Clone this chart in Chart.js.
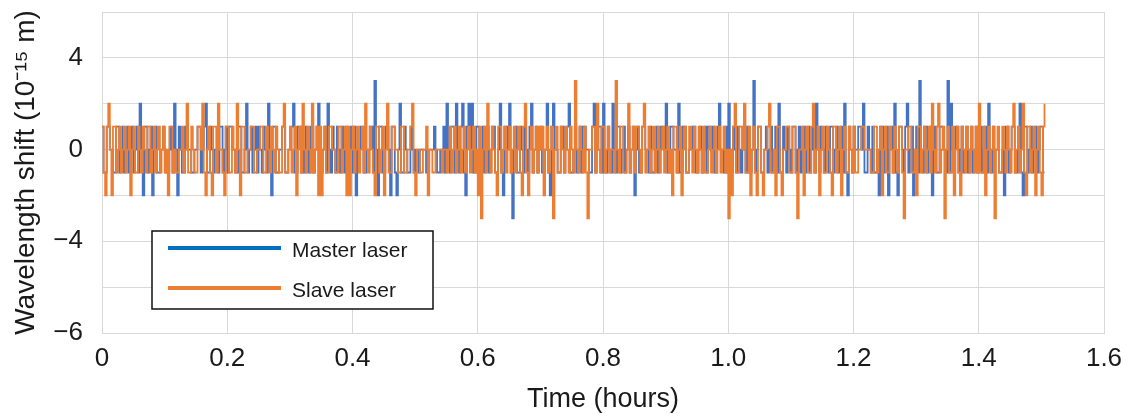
<!DOCTYPE html>
<html>
<head>
<meta charset="utf-8">
<script src="https://cdn.jsdelivr.net/npm/chart.js@4"></script>
<style>
html,body{margin:0;padding:0;background:#fff;}
#wrap{position:relative;width:1133px;height:416px;}
</style>
</head>
<body>
<div id="wrap"><canvas id="c"></canvas></div>
<script>
// ---- data ----
const seriesNames = ['Master laser', 'Slave laser'];
const sampleHours = 0.0025; // sampling interval of the record (hours)
const masterShift = [
 1,-1,-1,1,1,0,0,-1,-1,1,1,-1,0,1,-1,0,1,-1,0,1,-1,0,1,-1,2,0,-2,1,1,-1,0,1,-2,0,1,-1,-1,0,0,1,
 0,-1,-1,0,1,-1,2,0,-2,1,0,-1,-1,1,0,0,0,-1,-1,0,0,1,1,-1,0,1,2,-1,-1,1,0,-1,0,0,-1,1,1,-1,0,1,
 -1,1,1,0,0,-1,-1,1,1,-1,-1,0,2,-1,0,1,-1,0,1,-1,1,0,-1,1,0,-1,2,0,-2,1,1,-1,-1,0,0,1,1,-1,-1,0,
 0,1,2,-1,-1,1,1,-1,0,-1,1,0,-1,1,1,-1,0,1,2,-1,-1,0,1,-1,2,0,-1,1,0,-1,1,0,-1,1,0,-1,1,-1,0,1,
 -1,1,-2,0,0,1,1,-1,-1,0,0,1,1,-1,3,0,-2,1,1,-1,-1,1,1,0,-2,1,1,-1,-2,0,2,-1,-1,1,0,-1,-1,1,0,-1,
 0,0,-1,0,0,0,0,-1,-1,0,0,0,1,0,-1,-1,0,0,1,-1,2,0,-1,1,1,-1,2,0,-1,1,2,-1,-2,1,2,0,2,-1,-1,1,
 1,-1,0,1,-1,0,1,-1,0,1,1,-1,-1,0,2,-1,-2,1,1,0,2,-1,-3,0,1,-1,-1,1,0,-1,1,0,-1,1,2,-1,0,1,-1,0,
 1,-1,-1,0,2,-1,-2,1,2,0,0,-1,-1,1,1,-1,0,1,2,-1,-1,0,1,-1,0,1,-1,1,1,0,0,-1,-1,1,2,-1,0,1,1,-1,
 2,-1,-1,1,0,-1,2,0,-1,1,1,-1,0,1,-1,0,1,-1,0,1,-2,0,1,-1,-1,1,1,0,0,-1,1,-1,-1,0,1,-1,0,1,1,0,
 2,-1,-1,1,1,0,0,-1,2,-1,-1,1,1,-1,-1,0,0,1,1,-1,-1,0,1,-1,0,1,-1,1,1,0,1,-1,-1,1,2,0,0,-1,1,-1,
 2,0,-1,1,0,-1,1,0,-1,1,0,-1,1,-1,-1,0,3,-1,0,1,1,-1,-1,0,1,-1,0,1,-1,0,1,-1,2,-1,-1,1,0,-1,1,0,
 -1,1,1,-1,0,1,-1,0,1,-1,0,1,-1,0,1,-1,2,0,-1,1,0,-1,1,0,-1,1,1,-1,0,1,-1,0,1,-1,2,-1,-2,1,0,-1,
 1,0,0,1,1,0,2,-1,-1,1,0,-1,1,-1,-1,0,-2,1,1,-1,0,1,-2,0,1,-1,2,-1,-2,1,1,0,-1,1,2,-1,0,1,-2,0,
 1,-1,3,0,-1,1,1,-1,0,1,-2,0,1,-1,-1,1,1,0,0,-1,3,-1,2,0,-1,1,1,-1,0,1,-1,0,1,-1,0,1,-1,0,1,-1,
 0,1,-1,0,1,-1,2,0,-1,1,0,0,0,-1,-1,0,-2,1,1,-1,0,1,1,-1,-1,0,2,-1,-2,1,1,-1,0,1,-1,0,1,-1,0,1,
 1,-1,-1
];
const slaveShift = [
 1,-1,-2,1,2,0,-2,1,1,-1,0,1,-1,0,1,-1,0,1,-2,0,1,-1,-1,1,0,-1,1,0,-1,1,1,-1,0,1,-1,0,1,-1,0,1,
 -1,0,-2,1,1,-1,0,-1,-1,0,0,1,-1,0,2,-1,-1,1,0,-1,-1,1,1,0,2,-1,-2,0,1,-1,-2,1,1,-1,2,0,0,-1,-2,1,
 1,-1,-1,1,0,-1,2,0,-2,1,1,-1,-1,0,0,1,1,-1,-1,0,0,1,1,-1,-1,1,0,-1,1,0,-1,1,0,-1,-1,1,2,-1,-1,0,
 1,-1,0,1,-2,0,1,-1,2,0,-1,1,0,-1,2,-1,0,1,-2,1,-2,0,1,-1,-1,1,1,0,0,-1,-1,1,1,-1,0,1,-2,1,-2,0,
 1,-1,0,1,-1,0,1,-1,2,0,-1,1,0,-1,-2,1,1,-1,0,1,-2,0,2,-1,-1,1,1,0,0,-1,-1,1,1,-1,-1,0,0,1,2,-1,
 -2,0,0,-1,-1,0,0,1,-2,0,0,-1,-1,0,0,0,0,-1,0,0,-1,0,1,-1,0,1,-1,0,1,-1,0,1,-1,0,1,-1,0,1,-1,0,
 -2,1,-3,0,1,-1,2,0,-1,1,0,-1,-2,1,1,-1,0,1,-1,0,1,-1,0,1,-1,0,1,-1,-2,1,2,-1,-2,0,1,-1,0,1,-1,1,
 0,1,-2,0,1,-1,0,1,-3,0,1,-1,-1,1,0,-1,1,0,-1,1,0,-1,3,0,-1,1,0,-1,1,-1,-3,0,0,1,1,-1,2,0,-1,1,
 1,-1,0,1,-1,0,0,-1,3,0,-1,1,1,-1,-1,0,2,-1,0,1,-1,1,1,0,-1,1,2,-1,0,1,-1,0,1,-1,0,1,-1,0,1,-1,
 0,1,-1,0,-2,1,1,-1,0,1,-2,0,1,-1,-1,1,0,-1,1,0,-1,1,0,-1,1,-1,-1,0,1,-1,0,1,-1,0,1,-1,0,1,-1,0,
 -3,0,-2,1,2,-1,-1,1,1,0,2,-1,-1,1,-2,0,1,-1,-2,1,1,-1,-2,0,0,1,2,-1,-1,0,-2,1,1,-1,-2,0,0,1,1,-1,
 -1,1,1,-1,-3,0,0,1,-2,0,1,-1,-1,1,2,-1,0,1,-2,0,1,-1,-1,1,0,-1,-2,1,1,-1,0,1,-2,0,1,-1,-1,1,0,-1,
 1,-1,-1,0,0,1,1,0,0,0,0,-1,-1,1,1,-1,0,1,-2,0,1,-1,-1,1,0,-1,1,0,-1,1,1,-1,-3,0,0,1,1,-1,-1,0,
 -2,1,1,-1,0,1,-1,0,1,-1,2,0,-1,1,2,-1,0,1,-3,0,1,-1,-1,1,-2,0,1,-1,-2,1,0,-1,1,0,-1,1,0,-1,1,-1,
 2,-1,-1,1,-2,0,1,-1,0,1,-3,0,1,-1,-1,1,0,-1,1,0,-1,1,2,-1,0,1,-1,0,2,-1,-2,1,1,-1,0,1,-2,0,1,-1,
 -2,1,2
];
const xTickLabels = ['0','0.2','0.4','0.6','0.8','1.0','1.2','1.4','1.6'];
const yTickValues = [6,4,2,0,-2,-4,-6,-8];
const yTickLabels = ['','4','','0','','\u22124','','\u22126'];

// ---- build ----
const toPoints = arr => arr.map((v,i)=>({x: i*sampleHours, y: v}));
const FONT = '"Liberation Sans", Arial, sans-serif';
const lineColors = ['#4472C4', '#ED7D31'];
const legendColors = ['#0070C0', '#ED7D31'];

const boxLegend = {
  id: 'boxLegend',
  afterDraw(chart){
    const ctx = chart.ctx;
    ctx.save();
    ctx.fillStyle = '#ffffff';
    ctx.fillRect(152, 231, 281, 78);
    ctx.strokeStyle = '#111111';
    ctx.lineWidth = 1.5;
    ctx.strokeRect(152, 231, 281, 78);
    chart.data.datasets.forEach((ds, i) => {
      const y = 248 + i*40;
      ctx.strokeStyle = legendColors[i];
      ctx.lineWidth = 4;
      ctx.beginPath(); ctx.moveTo(168, y); ctx.lineTo(281, y); ctx.stroke();
      ctx.fillStyle = '#1a1a1a';
      ctx.font = '21px ' + FONT;
      ctx.textBaseline = 'alphabetic';
      ctx.textAlign = 'left';
      ctx.fillText(ds.label, 292, y + 9);
    });
    ctx.restore();
  }
};

new Chart(document.getElementById('c'), {
  type: 'line',
  data: {
    datasets: [
      {label: seriesNames[0], data: toPoints(masterShift), borderColor: lineColors[0], borderWidth: 1.8, pointRadius: 0, stepped: true, order: 1, fill: false},
      {label: seriesNames[1], data: toPoints(slaveShift), borderColor: lineColors[1], borderWidth: 1.8, pointRadius: 0, stepped: true, order: 0, fill: false}
    ]
  },
  options: {
    responsive: true,
    maintainAspectRatio: false,
    animation: false,
    events: [],
    layout: {padding: {top: 12, right: 29, left: 0, bottom: 0}},
    plugins: {legend: {display: false}, tooltip: {enabled: false}},
    scales: {
      x: {
        type: 'linear', min: 0, max: 1.6,
        afterFit(s){ s.height = 83; s.paddingLeft = 0; s.paddingRight = 0; },
        afterBuildTicks(s){ s.ticks = xTickLabels.map((l,i)=>({value: i*0.2})); },
        ticks: {padding: 10, color: '#1a1a1a', font: {family: FONT, size: 26}, maxRotation: 0,
          callback: (v, i) => xTickLabels[i]},
        grid: {color: '#d9d9d9', lineWidth: 1, drawTicks: false},
        border: {color: '#d9d9d9'},
        title: {display: true, text: 'Time (hours)', color: '#1a1a1a', font: {family: FONT, size: 27, lineHeight: 1.2}, padding: {top: 0, bottom: 0}}
      },
      y: {
        type: 'linear', min: -8, max: 6,
        afterFit(s){ s.width = 102; s.paddingTop = 0; s.paddingBottom = 0; },
        afterBuildTicks(s){ s.ticks = yTickValues.map(v=>({value: v})); },
        ticks: {padding: 19, color: '#1a1a1a', font: {family: FONT, size: 26},
          callback: (v) => yTickLabels[yTickValues.indexOf(v)]},
        grid: {color: '#d9d9d9', lineWidth: 1, drawTicks: false},
        border: {color: '#d9d9d9'},
        title: {display: true, text: 'Wavelength shift (10\u207B\u00B9\u2075 m)', color: '#1a1a1a', font: {family: FONT, size: 28, lineHeight: 1.2}, padding: {top: 9, bottom: 0}}
      }
    }
  },
  plugins: [boxLegend]
});
</script>
</body>
</html>
